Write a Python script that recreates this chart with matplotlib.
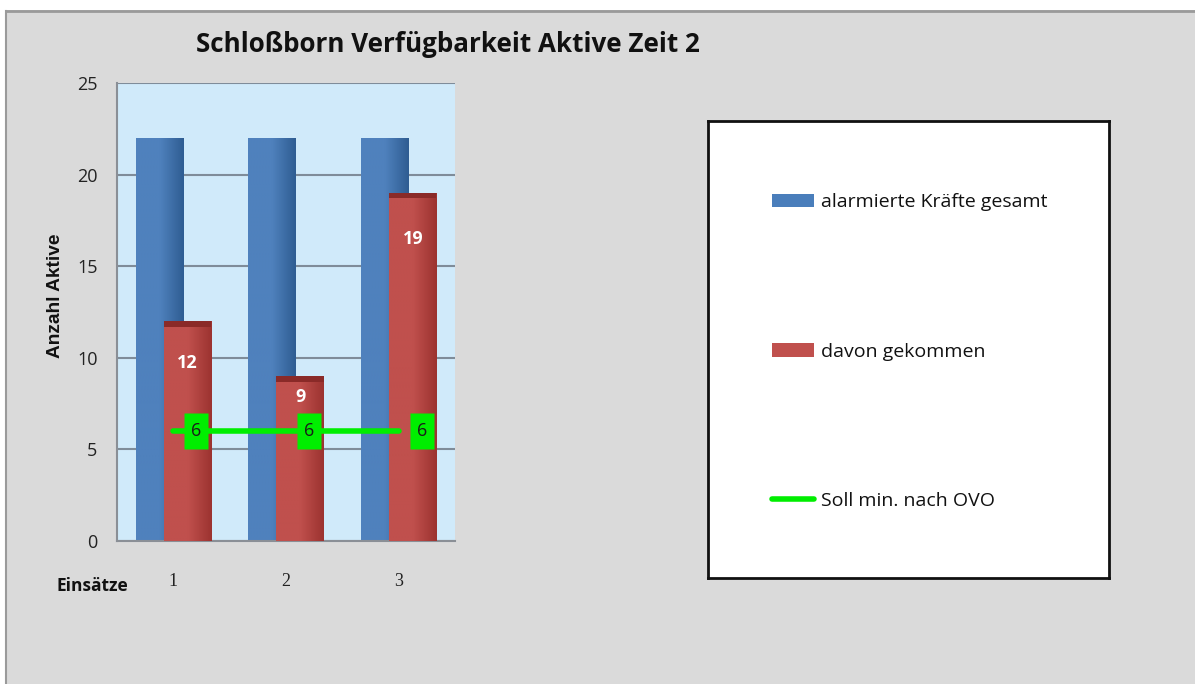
import matplotlib
matplotlib.use("Agg")
import matplotlib.pyplot as plt
import matplotlib.transforms as mtransforms
import numpy as np
from matplotlib.patches import Rectangle
from matplotlib.lines import Line2D

categories = ["1", "2", "3"]
alarmiert = [22, 22, 22]
gekommen = [12, 9, 19]
soll = [6, 6, 6]
yticks = [0, 5, 10, 15, 20, 25]
series_names = ["alarmierte Kräfte gesamt", "davon gekommen", "Soll min. nach OVO"]
title = "Schloßborn Verfügbarkeit Aktive Zeit 2"

W, H = 1195, 684
fig = plt.figure(figsize=(W / 100, H / 100), dpi=100)
fig.patch.set_facecolor("#dadada")

# top/left white strips with grey rule
fig.add_artist(Rectangle((0, 1 - 10 / H), 1, 10 / H, transform=fig.transFigure,
                         facecolor="white", edgecolor="none", zorder=0))
fig.add_artist(Rectangle((0, 0), 6 / W, 1, transform=fig.transFigure,
                         facecolor="white", edgecolor="none", zorder=0))
fig.add_artist(Line2D([6 / W, 1], [1 - 11 / H, 1 - 11 / H], transform=fig.transFigure,
                      color="#9a9a9a", lw=2, zorder=1))
fig.add_artist(Line2D([6.5 / W, 6.5 / W], [0, 1 - 11 / H], transform=fig.transFigure,
                      color="#9a9a9a", lw=1.5, zorder=1))

ax = fig.add_axes([117 / W, 1 - 541 / H, 338 / W, 458 / H])
ax.set_facecolor("#d0eafa")
x = np.arange(len(categories)) + 1
bw = 0.42
off = 0.125

def grad_bar(ax, bars, c_left, c_right):
    for b in bars:
        xx, yy = b.get_x(), b.get_y()
        w, h = b.get_width(), b.get_height()
        g = np.linspace(0, 1, 64).reshape(1, -1)
        cmap = matplotlib.colors.LinearSegmentedColormap.from_list("g", [c_left, c_left, c_right])
        im = ax.imshow(g, extent=[xx, xx + w, yy, yy + h], aspect="auto", cmap=cmap,
                       zorder=b.get_zorder() + 0.1, interpolation="bilinear")
        im.set_clip_path(b)

b1 = ax.bar(x - off, alarmiert, width=bw, color="#4a7ebb", zorder=2, label=series_names[0])
grad_bar(ax, b1, "#4f81bd", "#2f5d92")
b2 = ax.bar(x + off, gekommen, width=bw, color="#c0504d", zorder=3, label=series_names[1])
grad_bar(ax, b2, "#c0504d", "#9c3330")
# darker tops of red bars
for b in b2:
    ax.add_patch(Rectangle((b.get_x(), b.get_height() - 0.3), b.get_width(), 0.3,
                           facecolor="#8a2a28", edgecolor="none", zorder=3.5))

ln, = ax.plot(x, soll, color="#00ee00", lw=4, zorder=4, label=series_names[2],
              solid_capstyle="round")

ax.set_xlim(0.5, 3.5)
ax.set_ylim(0, 25)
ax.set_yticks(yticks)
ax.set_xticks(x)
ax.set_xticklabels(categories, family="Liberation Serif", fontsize=13)
ax.tick_params(axis="y", labelsize=13, length=0, pad=14, labelcolor="#222222")
ax.tick_params(axis="x", length=0, pad=23, labelcolor="#222222")
for lab in ax.get_yticklabels():
    lab.set_family("Open Sans")
ax.grid(axis="y", color="#7f8c99", lw=1.5, zorder=1)
ax.set_axisbelow(True)
for s in ["top", "right"]:
    ax.spines[s].set_visible(False)
ax.spines["left"].set_color("#8a8f96")
ax.spines["bottom"].set_color("#8a8f96")
ax.spines["left"].set_linewidth(1.5)
ax.spines["bottom"].set_linewidth(1.5)

# value labels in red bars (offsets in points)
yoff = [-30, -15, -33]
for xi, v, o in zip(x, gekommen, yoff):
    ax.annotate(str(v), (xi + off, v), xytext=(0, o), textcoords="offset points",
                ha="center", va="center", color="white", fontsize=13, weight="bold",
                family="Open Sans", zorder=6)
# soll labels: green box 23x36 px, shifted 23 px right of the point
shift = mtransforms.ScaledTranslation(23 / 100, 0, fig.dpi_scale_trans)
box_marker = [(-0.32, -0.5), (0.32, -0.5), (0.32, 0.5), (-0.32, 0.5), (-0.32, -0.5)]
ax.plot(x, soll, linestyle="none", marker=box_marker, markersize=26,
        markerfacecolor="#00ee00", markeredgecolor="none", zorder=5,
        transform=ax.transData + shift)
for xi, v in zip(x, soll):
    ax.text(xi, v, str(v), transform=ax.transData + shift, ha="center", va="center",
            color="#1a1a1a", fontsize=13, family="Open Sans", zorder=6)

fig.text(448 / W, 1 - 45 / H, title, ha="center", va="center", fontsize=18.7,
         weight="bold", family="Open Sans", color="#111111")
fig.text(56 / W, 1 - 296 / H, "Anzahl Aktive", rotation=90, ha="center", va="center",
         fontsize=13.8, weight="bold", family="Liberation Sans", color="#111111")
fig.text(92 / W, 1 - 586 / H, "Einsätze", ha="center", va="center",
         fontsize=12.5, weight="bold", family="Open Sans", color="#111111")

# legend box
lax = fig.add_axes([708 / W, 1 - 578 / H, 401 / W, 457 / H])
lax.set_xticks([]); lax.set_yticks([])
lax.set_facecolor("white")
for s in lax.spines.values():
    s.set_color("#111111"); s.set_linewidth(2)
leg = lax.legend([b1, b2, ln], series_names, loc="upper left", bbox_to_anchor=(0.115, 0.88),
                 frameon=False, labelspacing=6.75, handlelength=2.16,
                 handleheight=0.7, handletextpad=0.36, prop={"family": "Open Sans", "size": 14})
for t in leg.get_texts():
    t.set_color("#111111")

fig.savefig("out.png", dpi=100, facecolor=fig.get_facecolor())
